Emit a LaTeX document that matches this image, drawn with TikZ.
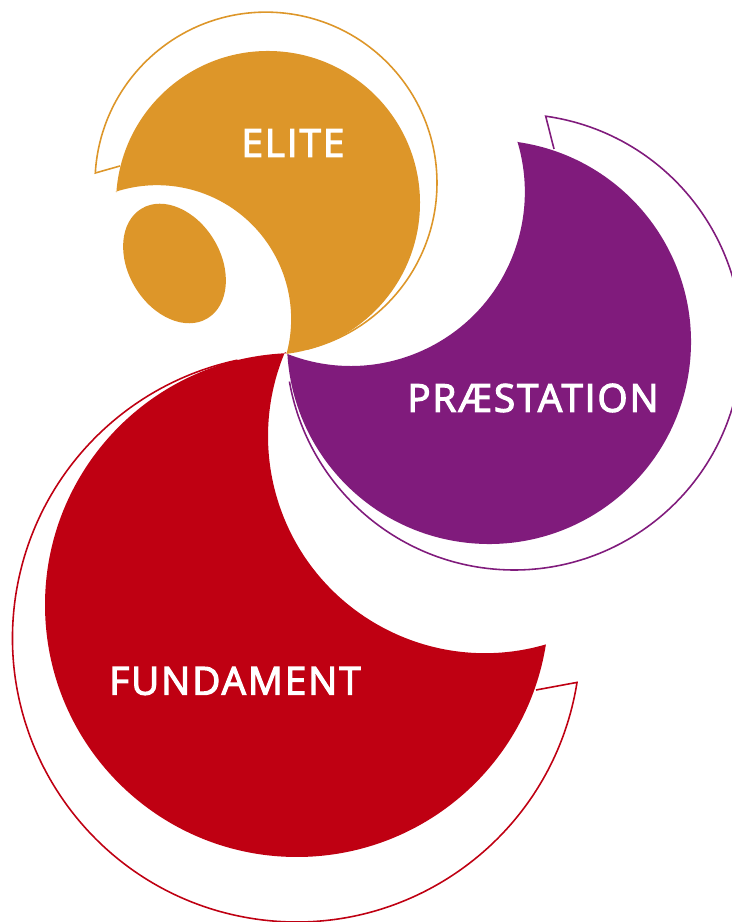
\documentclass[tikz,border=0pt]{standalone}
\usepackage{fontspec}
\setmainfont{Open Sans}
\newfontfamily\labelfont{Open Sans}[LetterSpace=5,FakeBold=3]
\definecolor{elitegold}{RGB}{221,150,41}
\definecolor{praestpurple}{RGB}{128,27,124}
\definecolor{fundred}{RGB}{191,0,18}
\tikzset{
  ringline/.style={line width=0.9pt,line join=miter},
  biglabel/.style={text=white,inner sep=0pt,font=\fontsize{22}{24}\labelfont}
}
\begin{document}
\begin{tikzpicture}[x=0.02cm,y=0.02cm]
  \useasboundingbox (0,0) rectangle (732,922);
  \clip (0,0) rectangle (732,922);

  % thin rings first, the filled shapes cover their inner ends
  \draw[ringline,elitegold] (120,756) -- (95.3,749) arc[start angle=176.6,end angle=-76,radius=171];
  \draw[ringline,praestpurple] (554,773) -- (545.7,805.8) arc[start angle=82,end angle=-170,radius=228];
  \draw[ringline,fundred] (536,232) -- (577,239.6) arc[start angle=-9,end angle=-258,radius=284];

  % elite
  \fill[elitegold] (268,719) ++(176:152) arc[start angle=176,end angle=-83,radius=152]
    arc[start angle=-15,end angle=108,radius=134] -- cycle;
  \fill[elitegold,rotate around={31:(174.5,658.5)}] (174.5,658.5) ellipse[x radius=46,y radius=64];

  % praestation
  \fill[praestpurple] (489,580) ++(82:202) arc[start angle=82,end angle=-176.6,radius=202]
    arc[start angle=-111.4,end angle=16.8,radius=174] -- cycle;

  % fundament
  \fill[fundred] (297,317) ++(92.3:252) arc[start angle=92.3,end angle=351,radius=252]
    arc[start angle=-73.7,end angle=-202.8,radius=217] -- cycle;

  \node[biglabel] (elite) at (293,779) {ELITE};
  \node[biglabel] (praestation) at (533,524) {PRÆSTATION};
  \node[biglabel] (fundament) at (235,241) {FUNDAMENT};
\end{tikzpicture}
\end{document}
